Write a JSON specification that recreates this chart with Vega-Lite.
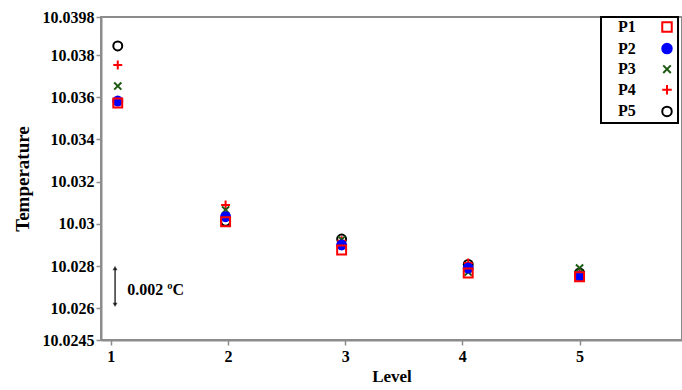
{
  "$schema": "https://vega.github.io/schema/vega-lite/v6.json",
  "width": 581,
  "height": 323,
  "autosize": {"type": "none"},
  "padding": {"left": 101, "top": 17, "right": 0, "bottom": 50},
  "background": "white",
  "config": {
    "font": "Liberation Serif",
    "view": {"stroke": "#8c8c8c", "strokeWidth": 2},
    "axis": {
      "domainColor": "#8c8c8c", "domainWidth": 2, "tickColor": "#8c8c8c", "tickWidth": 1.5,
      "labelFont": "Liberation Serif", "labelFontWeight": "bold", "labelFontSize": 16, "labelColor": "black",
      "titleFont": "Liberation Serif", "titleFontWeight": "bold", "titleColor": "black", "grid": false
    },
    "legend": {
      "orient": "none", "legendX": 500, "legendY": 0,
      "strokeColor": "black", "strokeWidth": 2, "fillColor": "white", "padding": 2,
      "labelFont": "Liberation Serif", "labelFontWeight": "bold", "labelFontSize": 16, "labelColor": "black",
      "symbolSize": 90, "symbolStrokeWidth": 2, "rowPadding": 3.6, "title": null,
      "symbolOffset": 56, "labelOffset": -57
    }
  },
  "layer": [
    {
      "data": {"values": [
        {"level": 1.06, "temp": 10.03573, "series": "P1"},
        {"level": 1.06, "temp": 10.03582, "series": "P2"},
        {"level": 1.06, "temp": 10.03653, "series": "P3"},
        {"level": 1.06, "temp": 10.03753, "series": "P4"},
        {"level": 1.06, "temp": 10.03843, "series": "P5"},
        {"level": 1.98, "temp": 10.03010, "series": "P1"},
        {"level": 1.98, "temp": 10.03034, "series": "P2"},
        {"level": 1.98, "temp": 10.03066, "series": "P3"},
        {"level": 1.98, "temp": 10.03090, "series": "P4"},
        {"level": 1.98, "temp": 10.03012, "series": "P5"},
        {"level": 2.97, "temp": 10.02876, "series": "P1"},
        {"level": 2.97, "temp": 10.02900, "series": "P2"},
        {"level": 2.97, "temp": 10.02925, "series": "P3"},
        {"level": 2.97, "temp": 10.02920, "series": "P4"},
        {"level": 2.97, "temp": 10.02928, "series": "P5"},
        {"level": 4.05, "temp": 10.02767, "series": "P1"},
        {"level": 4.05, "temp": 10.02791, "series": "P2"},
        {"level": 4.05, "temp": 10.02772, "series": "P3"},
        {"level": 4.05, "temp": 10.02815, "series": "P4"},
        {"level": 4.05, "temp": 10.02808, "series": "P5"},
        {"level": 5.0, "temp": 10.02750, "series": "P1"},
        {"level": 5.0, "temp": 10.02752, "series": "P2"},
        {"level": 5.0, "temp": 10.02791, "series": "P3"},
        {"level": 5.0, "temp": 10.02770, "series": "P4"},
        {"level": 5.0, "temp": 10.02768, "series": "P5"}
      ]},
      "mark": {"type": "point", "strokeWidth": 2, "size": 80, "opacity": 1},
      "encoding": {
        "x": {"field": "level", "type": "quantitative", "scale": {"domain": [0.917, 5.874], "nice": false, "zero": false},
          "axis": {"values": [1, 2, 3, 4, 5], "labelExpr": "'' + datum.value", "title": "Level", "titleFontSize": 17, "titlePadding": 4, "labelPadding": 3}},
        "y": {"field": "temp", "type": "quantitative", "scale": {"domain": [10.0245, 10.0398], "nice": false, "zero": false},
          "axis": {"values": [10.0245, 10.026, 10.028, 10.03, 10.032, 10.034, 10.036, 10.038, 10.0398], "labelExpr": "'' + datum.value", "title": "Temperature", "titleFontSize": 19, "titlePadding": 10, "labelPadding": 2}},
        "shape": {"field": "series", "type": "nominal", "scale": {"domain": ["P1", "P2", "P3", "P4", "P5"], "range": ["square", "circle", "M-0.8,-0.8L0.8,0.8M-0.8,0.8L0.8,-0.8", "M-1,0L1,0M0,-1L0,1", "circle"]}},
        "color": {"field": "series", "type": "nominal", "scale": {"domain": ["P1", "P2", "P3", "P4", "P5"], "range": ["#ff0000", "#0000ff", "#1e5a14", "#ff0000", "#000000"]}},
        "fill": {"field": "series", "type": "nominal", "scale": {"domain": ["P1", "P2", "P3", "P4", "P5"], "range": ["transparent", "#0000ff", "transparent", "transparent", "transparent"]}},
        "order": {"field": "series", "sort": "descending"}
      }
    },
    {
      "data": {"values": [{"x": 1.037, "y1": 10.02616, "y2": 10.02791}]},
      "mark": {"type": "rule", "color": "black", "strokeWidth": 1.2},
      "encoding": {"x": {"field": "x", "type": "quantitative"}, "y": {"field": "y1", "type": "quantitative"}, "y2": {"field": "y2"}}
    },
    {
      "data": {"values": [{"x": 1.037, "y": 10.02791}]},
      "mark": {"type": "point", "shape": "triangle-up", "filled": true, "color": "black", "size": 25},
      "encoding": {"x": {"field": "x", "type": "quantitative"}, "y": {"field": "y", "type": "quantitative"}}
    },
    {
      "data": {"values": [{"x": 1.037, "y": 10.02616}]},
      "mark": {"type": "point", "shape": "triangle-down", "filled": true, "color": "black", "size": 25},
      "encoding": {"x": {"field": "x", "type": "quantitative"}, "y": {"field": "y", "type": "quantitative"}}
    },
    {
      "data": {"values": [{"x": 1.14, "y": 10.02687, "t": "0.002 ºC"}]},
      "mark": {"type": "text", "align": "left", "baseline": "middle", "font": "Liberation Serif", "fontWeight": "bold", "fontSize": 16, "color": "black"},
      "encoding": {"x": {"field": "x", "type": "quantitative"}, "y": {"field": "y", "type": "quantitative"}, "text": {"field": "t"}}
    }
  ]
}
